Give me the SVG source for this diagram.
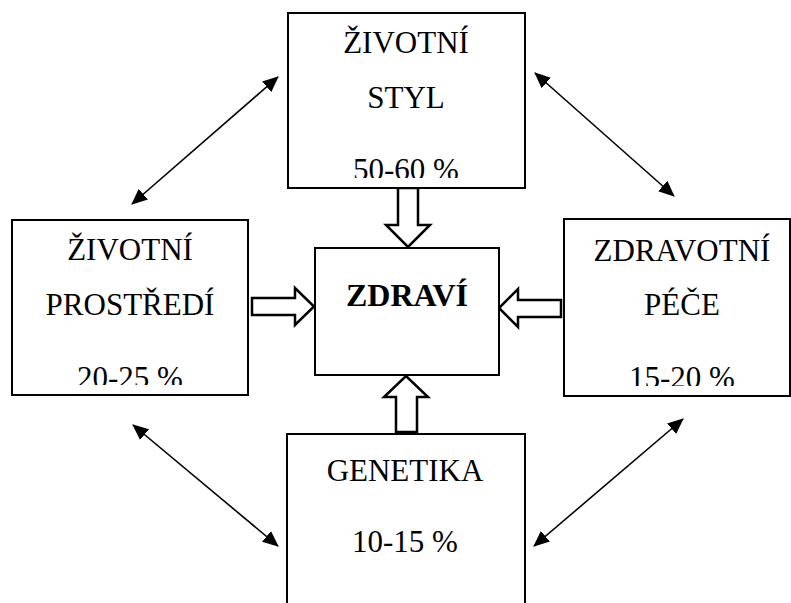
<svg xmlns="http://www.w3.org/2000/svg" width="791" height="603" viewBox="0 0 791 603">
<style>
.box{fill:#fff;stroke:#000;stroke-width:2}
.t{font-family:"Liberation Serif","Times New Roman",serif;font-size:31px;fill:#000;text-anchor:middle}
.b{font-weight:bold;font-size:32px}
.blk{fill:#fff;stroke:#000;stroke-width:2.5;stroke-linejoin:miter}
.thin{stroke:#000;stroke-width:1.6;fill:none;marker-start:url(#ah);marker-end:url(#ah)}
</style>
<defs>
<marker id="ah" viewBox="0 0 16 14" refX="15" refY="7" markerWidth="16" markerHeight="14" markerUnits="userSpaceOnUse" orient="auto-start-reverse">
<path d="M0,0 L16,7 L0,14 z" fill="#000"/>
</marker>
<clipPath id="cTop"><rect x="288" y="13" width="237" height="165"/></clipPath>
<clipPath id="cLeft"><rect x="12" y="220" width="236" height="165"/></clipPath>
<clipPath id="cRight"><rect x="564" y="219" width="226" height="167"/></clipPath>
</defs>
<rect width="791" height="603" fill="#fff"/>
<g id="connectors">
<polygon class="blk" points="398,188 418,188 418,225 430,225 408,247 386,225 398,225"/>
<polygon class="blk" points="252,298 295,298 295,288 314,306.5 295,325 295,315 252,315"/>
<polygon class="blk" points="561,300 518,300 518,289 499,308 518,327 518,317 561,317"/>
<polygon class="blk" points="396,432 417,432 417,397 428,397 406,376 384,397 396,397"/>
<line class="thin" x1="278" y1="77" x2="132" y2="204"/>
<line class="thin" x1="535" y1="73" x2="674" y2="196"/>
<line class="thin" x1="133" y1="425" x2="278" y2="546"/>
<line class="thin" x1="683" y1="419" x2="534" y2="546"/>
</g>
<g id="zivotni-styl">
<rect class="box" x="288" y="13" width="237" height="175"/>
<text class="t" x="406" y="53">ŽIVOTNÍ</text>
<text class="t" x="406" y="108">STYL</text>
<text class="t" x="406" y="180" clip-path="url(#cTop)">50-60 %</text>
</g>
<g id="zivotni-prostredi">
<rect class="box" x="12" y="220" width="236" height="175"/>
<text class="t" x="130" y="260">ŽIVOTNÍ</text>
<text class="t" x="130" y="315">PROSTŘEDÍ</text>
<text class="t" x="130" y="388" clip-path="url(#cLeft)">20-25 %</text>
</g>
<g id="zdravi">
<rect class="box" x="315" y="248" width="184" height="127"/>
<text class="t b" x="407" y="306">ZDRAVÍ</text>
</g>
<g id="zdravotni-pece">
<rect class="box" x="564" y="219" width="226" height="177"/>
<text class="t" x="682" y="261">ZDRAVOTNÍ</text>
<text class="t" x="682" y="315">PÉČE</text>
<text class="t" x="682" y="388" clip-path="url(#cRight)">15-20 %</text>
</g>
<g id="genetika">
<rect class="box" x="287" y="434" width="238" height="185"/>
<text class="t" x="405" y="481">GENETIKA</text>
<text class="t" x="405" y="552">10-15 %</text>
</g>
</svg>
